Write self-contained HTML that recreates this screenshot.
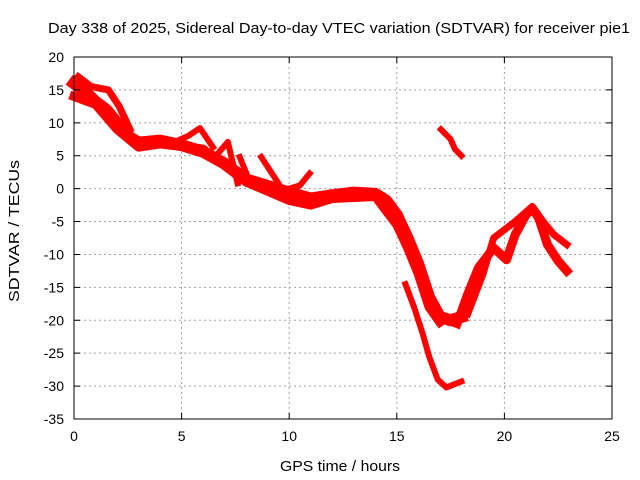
<!DOCTYPE html>
<html><head><meta charset="utf-8"><style>
body{margin:0;background:#fff}
svg{display:block;font-family:"Liberation Sans",sans-serif}
</style></head><body>
<svg id="chart" width="640" height="480">
<text x="48" y="33" font-size="15" textLength="582" lengthAdjust="spacingAndGlyphs">Day 338 of 2025, Sidereal Day-to-day VTEC variation (SDTVAR) for receiver pie1</text>
<text x="280" y="471" font-size="15" textLength="120" lengthAdjust="spacingAndGlyphs">GPS time / hours</text>
<text transform="translate(19,302) rotate(-90)" font-size="15" textLength="142" lengthAdjust="spacingAndGlyphs">SDTVAR / TECUs</text>
<g id="grid"></g><g id="series"></g><g id="axes"></g>
</svg>
<script>
const xTicks=[0,5,10,15,20,25];
const yTicks=[20,15,10,5,0,-5,-10,-15,-20,-25,-30,-35];
const trackMain=[[0,16],[0.5,14.8],[1,13.2],[1.5,12],[2,10],[2.5,8],[3,7],[4,7.3],[5,6.6],[6,5.6],[7,3.8],[8,1.4],[9,0.4],[10,-0.6],[11,-1.5],[12,-1],[13,-0.6],[14,-0.8],[14.5,-1.8],[15,-4],[15.5,-7.5],[16,-11.5],[16.5,-16.5],[17,-19.5],[17.5,-20],[18,-19.5]];
const trackMain2=[[0,14],[1,12.8],[2,9],[3,6.3],[4,6.8],[6,6],[8,1],[10,-1.8],[11,-2.5],[12,-1.5],[14,-1.2],[15,-5.5],[15.5,-9],[16,-13],[16.5,-18],[17,-20.3]];
const trackLoop=[[0.2,17],[0.8,15.5],[1.6,15],[2.1,12.5],[2.6,9]];
const spur1=[[4.6,7],[5.3,8],[5.85,9.2],[6.46,6.3]];
const spur2=[[6.6,5],[7.15,7.1],[7.6,0.8]];
const spur3=[[7.7,4.8],[8.2,0.8]];
const spur4=[[8.7,4.8],[9.5,0.8]];
const spur5=[[10.95,2.3],[10.5,0.5],[10,0]];
const trackIsolated=[[17.05,9],[17.5,7.5],[17.7,6],[18,5]];
const trackDeep=[[15.4,-14.5],[15.8,-18],[16.2,-22],[16.5,-25.5],[16.9,-29],[17.3,-30.2],[18,-29.3]];
const trackRise=[[17.8,-20.5],[18.3,-16],[18.8,-12],[19.5,-9],[20.1,-10.8],[20.5,-7],[21,-4],[21.3,-3],[21.6,-4.5],[22,-8.5],[22.5,-11],[22.9,-12.5]];
const trackRise2=[[18.3,-19],[19,-13],[19.5,-7.5],[20.5,-5],[21.3,-2.7],[21.8,-5],[22.3,-7],[22.9,-8.5]];
const tracks=[trackMain,trackMain2,trackLoop,spur1,spur2,spur3,spur4,spur5,trackIsolated,trackDeep,trackRise,trackRise2];
const widths=[12,9,7,6,6,6,6,6,6,6,9,7];

const X0=74,X1=612,Y0=57,Y1=419;
const xs=h=>X0+(h-0)/25*(X1-X0);
const ys=v=>Y0+(20-v)/55*(Y1-Y0);
const NS="http://www.w3.org/2000/svg";
const mk=(t,a,p)=>{const e=document.createElementNS(NS,t);for(const k in a)e.setAttribute(k,a[k]);p.appendChild(e);return e;};
const grid=document.getElementById('grid'),axes=document.getElementById('axes'),ser=document.getElementById('series');

xTicks.forEach(t=>{
  const x=xs(t);
  if(t>0&&t<25){const l=mk('line',{x1:x,y1:Y0,x2:x,y2:Y1,stroke:'#a0a0a0','stroke-dasharray':'2,3'},grid);
  
  }
  const tk=mk('path',{d:`M${x},${Y1}v-6M${x},${Y0}v6`,stroke:'#000'},axes);
  
  
  const tx=mk('text',{x:x,y:Y1+22,'font-size':14,'text-anchor':'middle'},axes);tx.textContent=t;
  
  
});
yTicks.forEach(t=>{
  const y=ys(t);
  if(t<20&&t>-35){const l=mk('line',{x1:X0,y1:y,x2:X1,y2:y,stroke:'#a0a0a0','stroke-dasharray':'2,3'},grid);
  
  }
  const tk=mk('path',{d:`M${X0},${y}h6M${X1},${y}h-6`,stroke:'#000'},axes);
  
  
  const tx=mk('text',{x:X0-10,y:y+5,'font-size':14,'text-anchor':'end'},axes);tx.textContent=t;
  
  
});
const fr=mk('rect',{x:X0,y:Y0,width:X1-X0,height:Y1-Y0,fill:'none',stroke:'#000'},axes);



tracks.forEach((tr,i)=>{
  const p=mk('polyline',{points:tr.map(d=>xs(d[0])+','+ys(d[1])).join(' '),fill:'none',stroke:'#ff0000','stroke-width':widths[i],'stroke-linejoin':'round','stroke-linecap':'square'},ser);
  
  
});
</script>
</body></html>
